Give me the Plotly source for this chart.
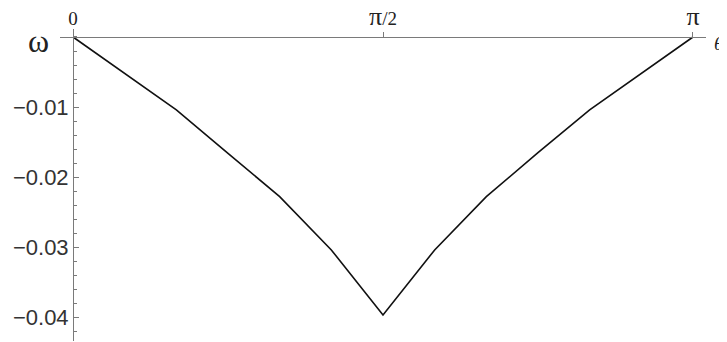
import numpy as np
import plotly.graph_objects as go

# 数据：θ 与 ω
theta = [0, np.pi/6, np.pi/4, np.pi/3, 5*np.pi/12, np.pi/2,
         7*np.pi/12, 2*np.pi/3, 3*np.pi/4, 5*np.pi/6, np.pi]
omega = [0, -0.0104, -0.0166, -0.0228, -0.0304, -0.0397,
         -0.0304, -0.0228, -0.0165, -0.0104, 0]

x_tickvals = [0, np.pi/2, np.pi]
x_ticktext = ["0", "<span style='font-size:26px'>π</span>/2", "<span style='font-size:26px'>π</span>"]
y_tickvals = [-0.01, -0.02, -0.03, -0.04]
y_ticktext = ["−0.01", "−0.02", "−0.03", "−0.04"]

# 页面 body 有 8px 边距，这里的边距已经扣掉
W, H = 727, 342
ml, mr, mt, mb = 52, 29, 21, 9
ylo, yhi = -0.0434, 0.00114
xlo, xhi = -0.066, np.pi + 0.066
y0_paper = 1 - (yhi / (yhi - ylo))

fig = go.Figure()
fig.add_trace(go.Scatter(x=theta, y=omega, mode='lines',
                         line=dict(color='#111111', width=1.6),
                         hoverinfo='skip', showlegend=False))

axis_col = '#7a7a7a'
fig.update_layout(
    width=W, height=H,
    margin=dict(l=ml, r=mr, t=mt, b=mb),
    plot_bgcolor='white', paper_bgcolor='white',
    xaxis=dict(range=[xlo, xhi], side='top', anchor='free',
               position=y0_paper, automargin=False,
               showline=True, linecolor=axis_col, linewidth=1,
               showgrid=False, zeroline=False,
               tickvals=x_tickvals, ticktext=x_ticktext,
               ticks='outside', ticklen=5, tickcolor=axis_col,
               ticklabelstandoff=-1,
               tickfont=dict(family='Liberation Serif', size=19, color='#222222')),
    yaxis=dict(range=[ylo, yhi], anchor='free',
               position=(0 - xlo) / (xhi - xlo), automargin=False,
               showline=True, linecolor=axis_col, linewidth=1,
               showgrid=False, zeroline=False,
               tickvals=y_tickvals, ticktext=y_ticktext,
               ticks='inside', ticklen=5, tickcolor=axis_col,
               minor=dict(dtick=0.002, tick0=0, ticks='inside', ticklen=3,
                          tickcolor=axis_col, showgrid=False),
               tickfont=dict(family='Liberation Sans', size=22, color='#333333')),
)

fig.add_annotation(text='ω', xref='paper', yref='paper', x=-0.034, y=0.9615,
                   xanchor='center', yanchor='middle', showarrow=False,
                   font=dict(family='Liberation Serif', size=32, color='#222222'))
fig.add_annotation(text='<i>θ</i>', xref='paper', yref='paper', x=1.0186, y=0.952,
                   xanchor='center', yanchor='middle', showarrow=False,
                   font=dict(family='Liberation Serif', size=19, color='#222222'))

fig.write_html("out.html")
